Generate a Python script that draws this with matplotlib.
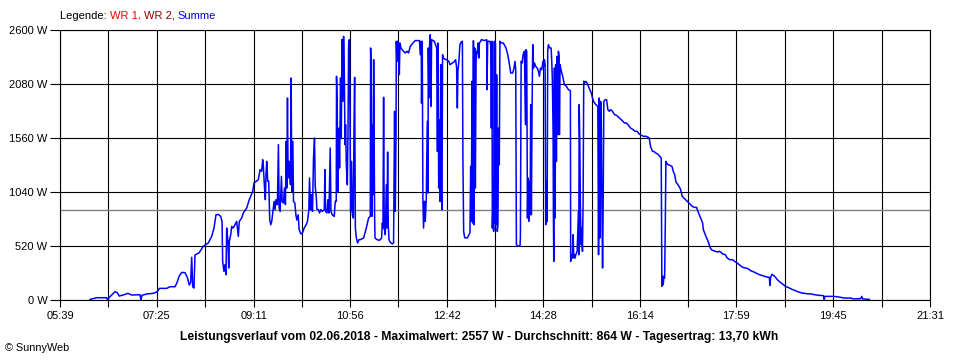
import matplotlib
matplotlib.use("Agg")
import matplotlib.pyplot as plt
from matplotlib.ticker import FixedLocator, NullFormatter

# ---- data (minute of day, power in W) ----
t_min = [
 371.8, 378.9, 390.1, 390.8, 393.7, 399.2, 401.7, 403.9, 407.9, 413.4, 417.5, 426.5, 427.6, 428.7,
 433.9, 441.1, 445.5, 447.7, 455.8, 459.4, 464.8, 466.7, 469.5, 472.2, 475.8, 478.3, 480.5, 482.0,
 483.1, 484.2, 485.6, 486.7, 488.6, 491.4,
 492.2, 495.8, 501.3, 505.0, 507.5, 509.7, 512.2, 514.8, 516.3, 517.0, 518.4, 519.5, 520.6, 521.4,
 522.8, 523.6, 524.3, 525.8, 526.9, 528.6, 530.5, 532.3, 534.1, 535.2, 537.8, 539.6, 543.3, 546.1,
 549.9, 551.3, 556.0, 557.9, 559.7, 560.8, 561.5, 562.6, 563.7, 564.4, 565.2, 566.3, 567.4, 568.5,
 569.6, 570.7, 572.5, 573.3, 574.3, 575.4, 576.9, 578.0, 578.8, 579.9, 581.3, 582.1, 583.5, 584.6,
 585.7, 586.5, 587.2, 587.9, 588.6, 589.4, 590.1, 591.2, 591.9, 592.7, 593.8, 594.5, 596.0, 597.1,
 598.2, 599.6, 600.7, 602.6, 604.3, 606.2, 608.4, 609.8, 611.3, 612.0, 613.1, 614.2, 615.3, 616.4,
 617.5, 618.3, 619.4, 620.1, 621.9, 623.0, 624.5, 626.0, 628.2, 628.9, 629.6, 631.1, 632.2, 633.3,
 634.7, 635.5, 636.9, 639.1, 640.2, 641.3, 641.6, 642.4, 643.1, 644.2, 644.9, 646.0, 646.8, 647.5,
 648.6, 649.3, 650.1, 650.9, 651.5, 652.3, 653.4, 654.2, 654.8, 655.6, 656.3, 657.0, 658.1, 658.9,
 660.0, 660.7, 661.4, 662.2, 663.3, 664.7, 666.2, 667.6,
 671.2, 674.2, 676.7, 678.5, 678.9, 679.6, 680.4, 681.1, 681.8, 682.2, 682.9, 683.3, 683.7, 685.9,
 688.7, 690.9, 691.7, 692.4, 693.1, 693.8, 694.9, 696.1, 696.8, 697.5, 698.2, 699.0, 700.4, 702.6,
 704.0, 705.1, 705.9, 706.7, 707.0, 707.7, 708.4, 709.5, 710.3, 711.0, 712.1, 714.3, 716.8, 718.7,
 720.4, 722.3, 725.2, 727.7, 732.4, 733.2, 734.3, 734.6, 735.4, 736.1, 736.8, 737.9, 738.7, 739.8,
 740.9, 741.7, 742.0, 742.7, 743.5, 744.2, 745.0, 745.6, 748.6, 751.2, 752.0, 752.6, 753.4, 754.1,
 754.8, 755.6, 756.3, 757.0, 757.6, 758.5, 759.9, 762.0, 764.6, 765.7, 768.3, 770.9, 771.9, 773.0,
 773.8, 774.4, 775.5, 776.6, 778.1, 779.3, 779.9, 780.7, 781.8, 784.7, 786.5, 787.6, 788.4, 789.1,
 789.8, 790.6, 791.4, 792.0, 792.8, 793.5, 794.3, 795.0, 795.7, 796.5, 797.2, 797.9, 799.3, 800.1,
 803.7, 805.9, 806.2, 807.0, 809.5, 810.3, 811.0, 811.7, 812.1, 812.8, 813.5, 814.3, 814.9, 815.4,
 816.0, 816.8, 817.5, 818.2, 818.9, 819.7, 820.4, 821.9, 824.1, 825.6, 827.0, 828.5, 830.0, 832.2,
 834.4, 835.8, 836.9, 837.7, 838.4, 840.2, 842.4, 842.8,
 843.6, 844.7, 845.7, 847.2, 848.3, 849.0, 849.7, 850.5, 851.2, 851.9, 852.7, 853.4, 854.1, 854.8,
 855.6, 856.3, 857.1, 858.2, 859.6, 861.1, 862.5, 863.6, 864.7, 866.1, 867.6, 868.3, 869.1, 869.8,
 870.5, 871.2, 872.0, 872.7, 873.4, 874.9, 876.4, 877.1, 877.8, 878.6, 878.9, 879.3, 880.0, 880.8,
 881.4, 882.2, 882.9, 883.6, 884.4, 885.1, 885.5, 886.2, 887.6, 889.1, 890.9, 893.1, 895.3, 897.5,
 897.8, 898.6, 899.7, 900.5, 901.2, 901.9, 902.7, 903.4, 904.9, 906.3, 906.7, 907.1, 907.8, 908.5,
 909.3, 909.9, 910.7, 911.4, 912.1, 913.2, 914.3, 915.8, 917.2, 918.7, 920.3, 921.7, 923.2, 925.3,
 927.5, 928.3, 929.0, 929.7, 930.5, 931.2, 931.9, 932.7, 933.4, 934.1, 935.6, 937.1, 938.5, 940.0,
 941.4, 943.6, 945.8, 948.0, 951.0, 953.8, 956.7, 958.9, 961.1, 963.3, 966.2, 968.4, 970.6, 972.8,
 975.0, 977.8, 980.8, 983.7, 985.2, 987.3, 988.8, 991.0, 993.2, 995.4, 996.9, 997.6, 998.4, 999.1,
 999.8, 1000.6, 1001.4, 1002.0, 1002.8, 1004.2, 1006.4, 1008.6, 1010.1, 1011.6, 1013.0, 1015.2, 1017.4,
 1018.1, 1019.9, 1021.7, 1023.6, 1025.4, 1028.3, 1030.9, 1032.7, 1035.6, 1037.0, 1038.6, 1040.8,
 1042.2, 1043.0, 1044.4, 1045.8, 1047.4, 1048.8, 1050.3, 1051.8, 1054.0, 1056.2, 1058.3, 1060.5,
 1061.9, 1064.1, 1067.0, 1069.1, 1072.0, 1075.0, 1077.2, 1080.1, 1083.0, 1086.0, 1088.9, 1091.8,
 1094.7, 1098.3, 1102.7, 1106.4, 1110.0, 1113.7, 1115.2, 1115.8, 1116.6, 1118.0, 1121.0, 1123.9,
 1126.8, 1129.7, 1132.7, 1136.3, 1139.9, 1143.6, 1147.2, 1150.8, 1156.0, 1161.1, 1164.7, 1169.9,
 1174.3, 1175.3, 1175.8, 1186.0, 1193.3, 1196.9, 1204.2, 1207.8, 1215.2, 1216.3, 1217.4, 1224.6,
]
power_w = [
 5, 22, 22, 2, 32, 80, 70, 38, 48, 64, 48, 51, 0, 45,
 58, 64, 80, 112, 112, 128, 128, 160, 231, 266, 263, 218, 144, 170,
 411, 128, 115, 433, 443, 455,
 469, 517, 549, 613, 693, 821, 824, 806, 757, 372, 276, 340, 244, 693,
 565, 308, 565, 629, 709, 693, 725, 757, 613, 757, 790, 838, 886, 966,
 1046, 1127, 1159, 1255, 1239, 1351, 1287, 1110, 966, 1207, 1335, 1143, 1143, 773,
 725, 757, 886, 950, 870, 966, 918, 1496, 886, 854, 1191, 950, 934, 1078,
 918, 1528, 1078, 1945, 1175, 1335, 1271, 1110, 2138, 1046, 1528, 950, 934, 821,
 770, 821, 677, 636, 645, 693, 725, 757, 870, 1175, 870, 1014, 854, 1367,
 1560, 1090, 998, 873, 870, 838, 870, 854, 870, 1255, 854, 838, 966, 838,
 1464, 854, 821, 805, 950, 950, 2154, 1817, 1046, 1656, 1271, 2138, 1560, 2507,
 1913, 2539, 2202, 1496, 1688, 1303, 1110, 1656, 2459, 2507, 1785, 854, 1335, 821,
 790, 1656, 2144, 693, 597, 549, 581, 581,
 597, 693, 790, 806, 2427, 2186, 806, 1688, 1014, 2314, 1399, 790, 597, 581,
 575, 597, 741, 693, 1952, 693, 629, 1110, 693, 1425, 725, 581, 556, 540,
 549, 1817, 854, 1592, 2491, 2298, 2491, 2475, 2170, 2475, 2427, 2401, 2379, 2395,
 2379, 2443, 2475, 2498, 2498, 2362, 2491, 1897, 2491, 966, 693, 950, 757, 982,
 1720, 1030, 2427, 1945, 2491, 2555, 1865, 2507, 2491, 2427, 1431, 2475, 1078, 1736,
 950, 2266, 1014, 870, 2362, 2330, 2320, 2314, 2298, 2266, 2282, 2298, 2314, 2234,
 1849, 2202, 2298, 2459, 2484, 2491, 1351, 661, 600, 597, 629, 645, 1287, 757,
 2106, 741, 2497, 725, 2427, 1078, 2298, 2395, 2379, 2475, 2330, 2475, 2491, 2507,
 2498, 2507, 2025, 2491, 2491, 2452, 1656, 2491, 693, 950, 661, 2491, 741, 2475,
 725, 2170, 661, 725, 1656, 1303, 2491, 2475, 2475, 2450, 2427, 2379, 2314, 2186,
 2186, 2234, 2298, 2218, 533, 520, 520, 613,
 2298, 2282, 2362, 2395, 1688, 2411, 2395, 790, 1175, 757, 1143, 821, 1881, 821,
 1881, 2459, 2234, 2282, 2250, 2234, 2202, 2154, 2234, 2218, 2298, 2250, 2314, 2266,
 725, 1143, 757, 2395, 2459, 2427, 2427, 2298, 2106, 1592, 821, 372, 2234, 790,
 2266, 1335, 2346, 1592, 2395, 2346, 1592, 2266, 2202, 2154, 2074, 2058, 2026, 2016,
 372, 436, 404, 629, 404, 436, 404, 436, 469, 854, 436, 1881, 1528, 854,
 533, 693, 469, 950, 2106, 2090, 2106, 2090, 2058, 2026, 1994, 1945, 1907, 1881,
 1865, 436, 1945, 597, 1913, 1881, 1014, 308, 982, 1913, 1929, 1929, 1833, 1817,
 1833, 1817, 1785, 1778, 1753, 1731, 1704, 1704, 1682, 1656, 1640, 1624, 1624, 1598,
 1586, 1576, 1576, 1560, 1480, 1431, 1431, 1415, 1405, 1383, 1367, 132, 228, 148,
 228, 212, 757, 1335, 1319, 1303, 1297, 1287, 1239, 1207, 1136, 1110, 1078,
 1062, 998, 982, 966, 950, 925, 902, 892, 892, 854, 821, 773,
 741, 677, 645, 613, 581, 549, 507, 485, 475, 469, 462, 469,
 462, 443, 437, 404, 388, 388, 372, 356, 334, 315, 308, 302,
 282, 270, 250, 238, 228, 218, 218, 141, 218, 247, 228, 196,
 173, 154, 132, 119, 103, 90, 77, 67, 61, 58, 51, 45,
 42, 3, 35, 35, 26, 19, 19, 10, 13, 35, 10, 6,
]

average_w = 864
x_tick_labels = ["05:39", "07:25", "09:11", "10:56", "12:42", "14:28",
                 "16:14", "17:59", "19:45", "21:31"]
y_ticks = [0, 520, 1040, 1560, 2080, 2600]
title_text = ("Leistungsverlauf vom 02.06.2018 - Maximalwert: 2557 W - "
              "Durchschnitt: 864 W - Tagesertrag: 13,70 kWh")

# ---- figure ----
plt.rcParams['font.family'] = ['Liberation Sans', 'DejaVu Sans']
fig = plt.figure(figsize=(9.6, 3.6), dpi=100)
fig.patch.set_facecolor('white')
ax = fig.add_axes([60 / 960, 60 / 360, 870 / 960, 270 / 360])

def to_min(s):
    h, m = s.split(":")
    return int(h) * 60 + int(m)

major = [to_min(s) for s in x_tick_labels]
minor = [(a + b) / 2 for a, b in zip(major[:-1], major[1:])]

ax.set_xlim(major[0], major[-1])
ax.set_ylim(0, 2600)

ax.xaxis.set_major_locator(FixedLocator(major))
ax.xaxis.set_minor_locator(FixedLocator(minor))
ax.set_xticklabels(x_tick_labels)
ax.xaxis.set_minor_formatter(NullFormatter())
ax.set_yticks(y_ticks)
ax.set_yticklabels([f"{v} W" for v in y_ticks])

ax.grid(True, which='both', axis='x', color='black', linewidth=0.8)
ax.grid(True, which='major', axis='y', color='black', linewidth=0.8)
ax.set_axisbelow(True)

ax.tick_params(axis='both', which='both', direction='out', length=5,
               width=0.8, color='black', labelsize=8, pad=3)
ax.tick_params(axis='y', length=7, pad=2)
for s in ax.spines.values():
    s.set_color('black')
    s.set_linewidth(0.8)

ax.axhline(average_w, color='#808080', linewidth=1.0, zorder=2)
ax.plot(t_min, power_w, color='#0000FF', linewidth=1.1, zorder=3)

# bottom title
fig.text(479 / 960, 1 - 337 / 360, title_text, ha='center', va='center',
         fontsize=8.7, fontweight='bold', color='black')
fig.text(5 / 960, 1 - 348 / 360, "\u00a9 SunnyWeb", ha='left', va='center',
         fontsize=7.8, color='black')

# legend line
fig.canvas.draw()
renderer = fig.canvas.get_renderer()
x_px = 60
parts = [("Legende: ", 'black'), ("WR 1", '#FF0000'), (", ", '#FF0000'),
         ("WR 2, ", '#990000'), ("Summe", '#0000FF')]
for txt, col in parts:
    t = fig.text(x_px / 960, 1 - 16 / 360, txt, ha='left', va='center',
                 fontsize=8, color=col)
    bb = t.get_window_extent(renderer=renderer)
    x_px += bb.width

fig.savefig("out.png", dpi=100, facecolor='white')
